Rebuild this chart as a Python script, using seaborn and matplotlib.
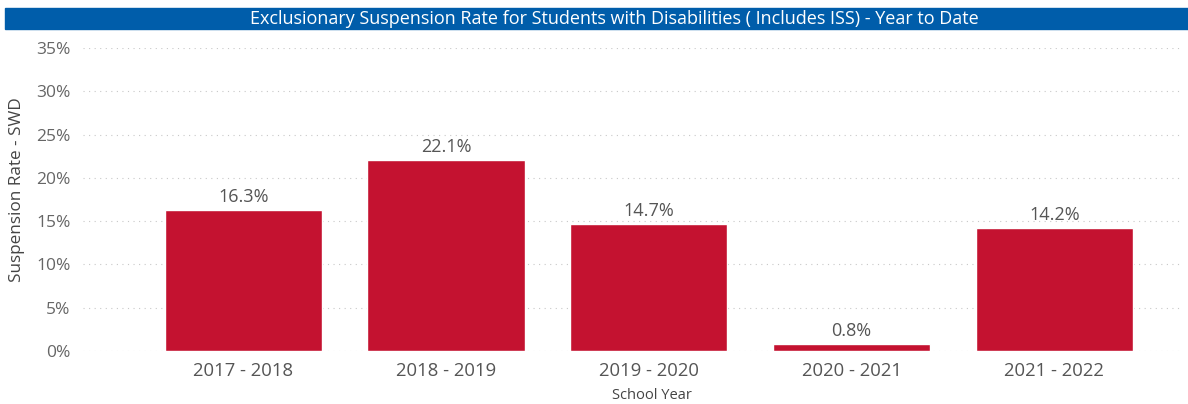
import matplotlib
matplotlib.use("Agg")
import matplotlib.pyplot as plt
import seaborn as sns
import pandas as pd
from matplotlib.patches import Rectangle
from matplotlib.ticker import FuncFormatter

years = ["2017 - 2018", "2018 - 2019", "2019 - 2020", "2020 - 2021", "2021 - 2022"]
rates = [16.3, 22.1, 14.7, 0.8, 14.2]
yticks = [0, 5, 10, 15, 20, 25, 30, 35]

sns.set_theme(style="white")
plt.rcParams['font.family'] = ['Open Sans', 'DejaVu Sans']

df = pd.DataFrame({"year": years, "rate": rates})

fig = plt.figure(figsize=(11.88, 4.04), dpi=100)
ax = fig.add_axes([83/1188, 1-351/404, (1180-83)/1188, (351-48)/404])

sns.barplot(data=df, x="year", y="rate", color="#C41230", saturation=1,
            width=0.775, ax=ax)

ax.set_ylim(0, 35)
ax.set_xlim(-0.79, 4.62)
ax.set_yticks(yticks)
ax.yaxis.set_major_formatter(FuncFormatter(lambda v, p: f"{int(v)}%"))
ax.grid(axis="y", linestyle=(0, (1, 4)), color="#c8c8c8", linewidth=0.8)
ax.set_axisbelow(True)
for s in ax.spines.values():
    s.set_visible(False)
ax.tick_params(axis="y", labelsize=12.5, labelcolor="#666666", length=0, pad=9)
ax.tick_params(axis="x", labelsize=13.3, labelcolor="#555555", length=0, pad=8)
ax.set_ylabel("Suspension Rate - SWD", fontsize=12.3, color="#444444")
ax.yaxis.set_label_coords((25-83)/1097, (351-190)/303)
ax.set_xlabel("School Year", fontsize=10.5, color="#444444")
ax.xaxis.set_label_coords((652-83)/1097, (351-388)/303)

for c in ax.containers:
    ax.bar_label(c, labels=[f"{v:.1f}%" for v in rates], padding=3,
                 fontsize=13, color="#555555")

# title band
fig.patches.append(Rectangle((5/1188, 1-29/404), 1 - 5/1188, 21/404,
                             transform=fig.transFigure, color="#005DAA", zorder=0))
fig.text(614/1188, 1-18.5/404,
         "Exclusionary Suspension Rate for Students with Disabilities ( Includes ISS) - Year to Date",
         color="white", fontsize=13, ha="center", va="center")

fig.savefig("out.png", dpi=100)
